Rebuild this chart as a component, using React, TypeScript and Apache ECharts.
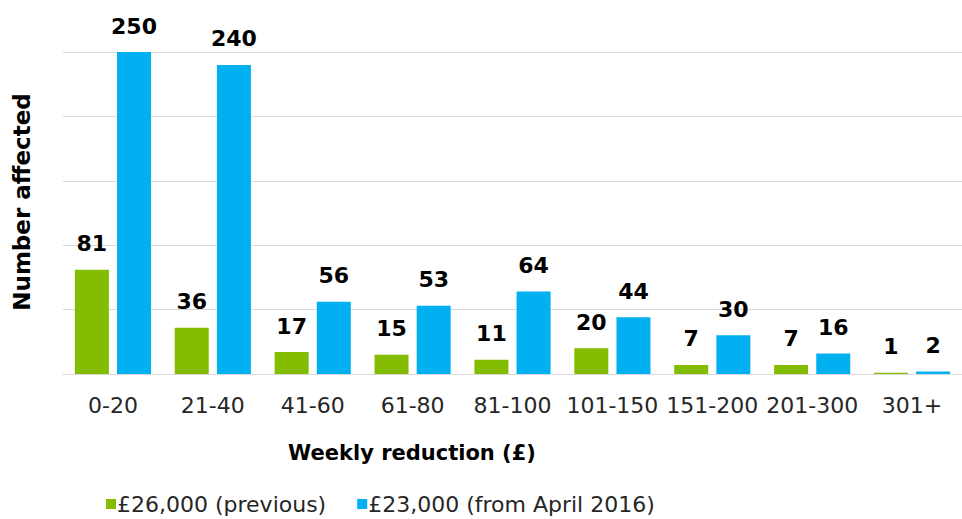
import React, { useEffect, useRef } from "react";
import * as echarts from "echarts";

const categories = ["0-20", "21-40", "41-60", "61-80", "81-100", "101-150", "151-200", "201-300", "301+"];
const previousValues = [81, 36, 17, 15, 11, 20, 7, 7, 1];
const april2016Values = [250, 240, 56, 53, 64, 44, 30, 16, 2];
const seriesNames = ["£26,000 (previous)", "£23,000 (from April 2016)"];
const yTicks = { min: 0, max: 250, interval: 50 };

const FONT = "'DejaVu Sans', sans-serif";

export default function App() {
  const ref = useRef<HTMLDivElement>(null);
  useEffect(() => {
    if (!ref.current) return;
    const chart = echarts.init(ref.current, undefined, { renderer: "svg" });
    const labelCfg = {
      show: true,
      position: "top" as const,
      distance: 15,
      fontFamily: FONT,
      fontWeight: "bold" as const,
      fontSize: 22,
      color: "#000",
    };
    chart.setOption({
      animation: false,
      grid: { left: 63, right: 0, top: 52, bottom: 145, containLabel: false },
      legend: {
        top: 488,
        left: 101,
        itemWidth: 10,
        itemHeight: 10,
        itemGap: 31,
        icon: "rect",
        textStyle: { fontFamily: FONT, fontSize: 22, color: "#262626", padding: [0, 0, 0, -4] },
        data: seriesNames,
      },
      xAxis: {
        type: "category",
        data: categories,
        axisLine: { show: true, lineStyle: { color: "#d9d9d9", width: 1 } },
        axisTick: { show: false },
        axisLabel: { fontFamily: FONT, fontSize: 22, color: "#262626", margin: 20, interval: 0 },
      },
      yAxis: {
        type: "value",
        min: yTicks.min,
        max: yTicks.max,
        interval: yTicks.interval,
        axisLine: { show: false },
        axisTick: { show: false },
        axisLabel: { show: false },
        splitLine: { lineStyle: { color: "#d9d9d9", width: 1 } },
      },
      graphic: [
        {
          type: "text",
          x: 412,
          y: 453,
          style: {
            text: "Weekly reduction (£)",
            fontFamily: FONT,
            fontWeight: "bold",
            fontSize: 21,
            fill: "#000",
            align: "center",
            verticalAlign: "middle",
          },
        },
        {
          type: "text",
          x: 22,
          y: 202,
          rotation: Math.PI / 2,
          style: {
            text: "Number affected",
            fontFamily: FONT,
            fontWeight: "bold",
            fontSize: 23,
            fill: "#000",
            align: "center",
            verticalAlign: "middle",
          },
        },
      ],
      series: [
        {
          name: seriesNames[0],
          type: "bar",
          data: previousValues,
          barWidth: 34,
          barGap: "24%",
          itemStyle: { color: "#84bd00" },
          label: labelCfg,
        },
        {
          name: seriesNames[1],
          type: "bar",
          data: april2016Values,
          barWidth: 34,
          barGap: "24%",
          itemStyle: { color: "#00b0f0" },
          label: labelCfg,
        },
      ],
    });
    return () => chart.dispose();
  }, []);
  return (
    <div
      ref={ref}
      style={{ position: "fixed", left: 0, top: 0, width: 962, height: 519, background: "#fff" }}
    />
  );
}
